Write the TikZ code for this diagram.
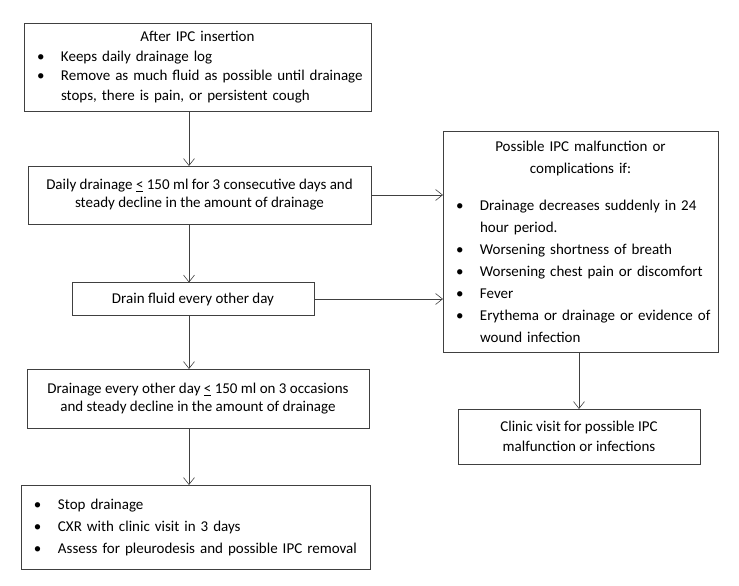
\documentclass[tikz,border=0pt]{standalone}
\usepackage{fontspec}
\setmainfont{Carlito}
\usetikzlibrary{arrows.meta}
\newcommand{\blt}{\hspace*{9pt}\makebox[24pt][l]{\textbullet}}
\newcommand{\hang}{\hspace*{33pt}}

\begin{document}
\begin{tikzpicture}[x=1pt,y=-1pt,
		box/.style={draw=black!75, line width=0.6pt, inner xsep=4pt, inner ysep=0pt, outer sep=0pt, align=center, font=\fontsize{15}{18}\selectfont},
		list/.style={box, align=left},
		arr/.style={draw=black!75, line width=0.6pt, -{Straight Barb[length=7pt,width=11pt]}}]
		\useasboundingbox (0,0) rectangle (739,586);
		\coordinate (spine) at (189,0);
		\node[list, text width=339pt, minimum height=88pt, font=\fontsize{15}{19.7}\selectfont] (insert) at (197.5,67) {\makebox[\hsize]{After IPC insertion}\\ \blt Keeps daily drainage log\\ \blt Remove as much fluid as possible until drainage\\ \hang stops, there is pain, or persistent cough};
		\node[box, minimum width=343pt, minimum height=58pt] (daily) at (199.5,195) {Daily drainage \underline{<} 150 ml for 3 consecutive days and\\ steady decline in the amount of drainage};
		\node[box, minimum width=242pt, minimum height=33pt] (other) at (193,299) {Drain fluid every other day};
		\node[box, minimum width=342pt, minimum height=59pt] (occas) at (198,398.5) {Drainage every other day \underline{<} 150 ml on 3 occasions\\ and steady decline in the amount of drainage};
		\node[list, text width=341pt, minimum height=84pt, font=\fontsize{15}{22}\selectfont] (stop) at (195.5,527) {\blt Stop drainage\\ \blt CXR with clinic visit in 3 days\\ \blt Assess for pleurodesis and possible IPC removal};
		\node[list, text width=267pt, minimum height=221pt, font=\fontsize{15}{22}\selectfont] (malf) at (580.5,241.5) {\makebox[\hsize]{Possible IPC malfunction or}\\ \makebox[\hsize]{complications if:}\\[15pt] \blt Drainage decreases suddenly in 24\\ \hang hour period.\\ \blt Worsening shortness of breath\\ \blt Worsening chest pain or discomfort\\ \blt Fever\\ \blt Erythema or drainage or evidence of\\ \hang wound infection};
		\node[box, minimum width=242pt, minimum height=55pt, font=\fontsize{15}{20}\selectfont] (clinic) at (579,436.5) {Clinic visit for possible IPC\\ malfunction or infections};
		
		\draw[arr] (insert.south -| spine) -- (daily.north -| spine);
		\draw[arr] (daily.south -| spine) -- (other.north -| spine);
		\draw[arr] (other.south -| spine) -- (occas.north -| spine);
		\draw[arr] (occas.south -| spine) -- (stop.north -| spine);
		\draw[arr] (daily.east) -- (daily.east -| malf.west);
		\draw[arr] (other.east) -- (other.east -| malf.west);
		\draw[arr] (malf.south -| clinic.north) -- (clinic.north);
	\end{tikzpicture}
\end{document}
